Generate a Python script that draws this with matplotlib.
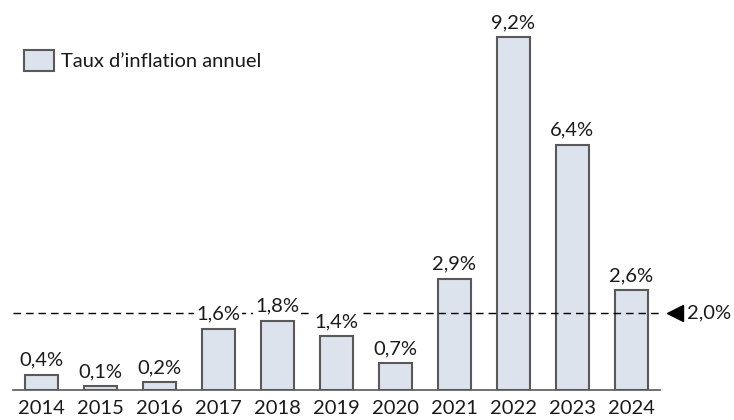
import matplotlib
matplotlib.use("Agg")
import matplotlib.pyplot as plt

years = ["2014", "2015", "2016", "2017", "2018", "2019", "2020", "2021", "2022", "2023", "2024"]
values = [0.4, 0.1, 0.2, 1.6, 1.8, 1.4, 0.7, 2.9, 9.2, 6.4, 2.6]
target = 2.0
series_name = "Taux d\u2019inflation annuel"

plt.rcParams['font.family'] = ['Lato', 'DejaVu Sans']
FS = 14.5
TXT = "#1a1a1a"

fig = plt.figure(figsize=(7.34, 4.2), dpi=100)
ax = fig.add_axes([13/734, 30/420, (660-13)/734, 390/420])

x = list(range(len(years)))
ax.bar(x, values, width=0.56, color="#dde3ed", edgecolor="#595959",
       linewidth=1.5, zorder=2, label=series_name)

ax.axhline(target, color="black", linestyle=(0, (5.5, 3.5)), linewidth=1.0, zorder=3)

def fmt(v):
    return f"{v:.1f}".replace(".", ",") + "%"

for xi, v in zip(x, values):
    ax.annotate(fmt(v), (xi, v), xytext=(0, 4.5), textcoords="offset points",
                ha="center", va="bottom", fontsize=FS, color=TXT, zorder=5,
                bbox=dict(boxstyle="square,pad=0.1", facecolor="white", edgecolor="none"))

ax.plot([10.75], [target], marker="<", markersize=11, color="black", clip_on=False, zorder=4)
ax.text(10.95, target, fmt(target), ha="left", va="center", fontsize=FS, color=TXT)

ax.set_xlim(-0.48, 10.49)
ax.set_ylim(0, 390/38.35)
ax.set_xticks(x)
ax.set_xticklabels(years, fontsize=FS, color=TXT)
ax.tick_params(axis="x", length=0, pad=7)
ax.set_yticks([])
for s in ["top", "left", "right"]:
    ax.spines[s].set_visible(False)
ax.spines["bottom"].set_color("#595959")
ax.spines["bottom"].set_linewidth(1.2)

ax.legend(loc="upper left", bbox_to_anchor=(14/734, 1 - 40/420),
          bbox_transform=fig.transFigure, frameon=False, fontsize=FS,
          handlelength=1.5, handleheight=1.25, handletextpad=0.35, borderpad=0,
          labelcolor=TXT)

fig.savefig("out.png", dpi=100)
